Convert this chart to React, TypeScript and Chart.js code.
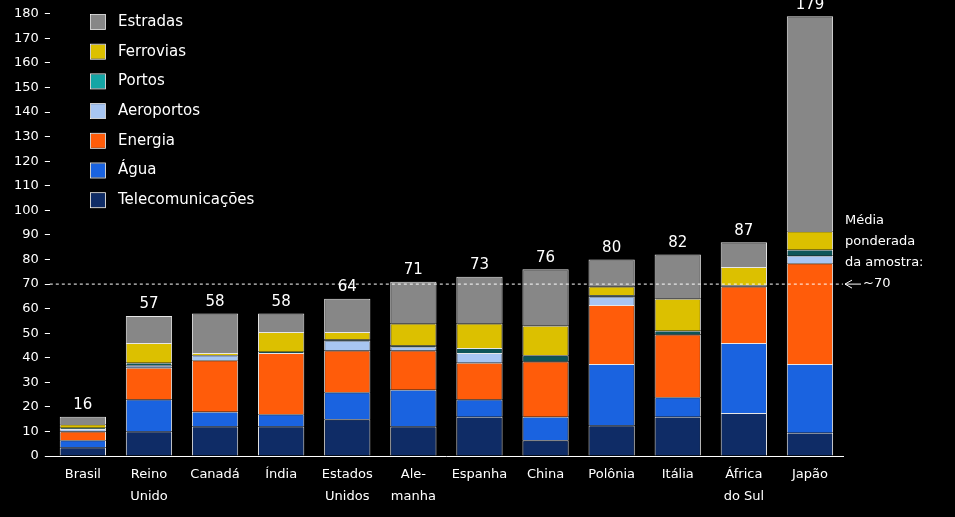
import React, { useEffect, useRef } from "react";
import { Chart, registerables } from "chart.js";

Chart.register(...registerables);

const categories: (string | string[])[] = [
  "Brasil", ["Reino", "Unido"], "Canadá", "Índia", ["Estados", "Unidos"], ["Ale-", "manha"],
  "Espanha", "China", "Polônia", "Itália", ["África", "do Sul"], "Japão",
];
const totals = [16, 57, 58, 58, 64, 71, 73, 76, 80, 82, 87, 179];

const telecomunicacoes = [3.5, 10, 12, 12, 15, 12, 16, 6.5, 12.5, 16, 17.5, 9.5];
const agua = [3, 13, 6, 5, 11, 15, 7, 9.5, 25, 8, 28.5, 28];
const energia = [3.5, 13, 21, 25, 17, 16, 15, 22.5, 24, 25.5, 23, 41];
const aeroportos = [1, 1, 2, 0, 4, 1.5, 4, 0, 3.5, 0, 0.5, 3];
const portos = [0.5, 1, 0, 0.5, 0.5, 0.5, 2, 2.5, 0.5, 1.5, 0, 2.5];
const ferrovias = [1.5, 8, 1, 8, 3, 9, 10, 12, 3.5, 13, 7.5, 7.5];
const estradas = [3, 11, 16, 7.5, 13.5, 17, 19, 23, 11, 18, 10, 87.5];

const yTicksMax = 180;
const averageValue = 70;
const averageLabel = ["Média", "ponderada", "da amostra:", "~70"];

const FONT = "'DejaVu Sans', 'Liberation Sans', sans-serif";

const seriesDefs = [
  { label: "Telecomunicações", data: telecomunicacoes, color: "#0f2c66" },
  { label: "Água", data: agua, color: "#1a63e0" },
  { label: "Energia", data: energia, color: "#ff5c0a" },
  { label: "Aeroportos", data: aeroportos, color: "#a8c6f2" },
  { label: "Portos", data: portos, color: "#0d5558" },
  { label: "Ferrovias", data: ferrovias, color: "#dcc000" },
  { label: "Estradas", data: estradas, color: "#878787" },
];
const legendColors: Record<string, string> = { Portos: "#14a5a5" };

const overlayPlugin = {
  id: "overlay",
  afterDatasetsDraw(chart: any) {
    const { ctx, chartArea, scales } = chart;
    const x = scales.x;
    const y = scales.y;
    ctx.save();
    // totals
    ctx.fillStyle = "#ffffff";
    ctx.font = `15px ${FONT}`;
    ctx.textAlign = "center";
    ctx.textBaseline = "bottom";
    totals.forEach((t, i) => {
      ctx.fillText(String(t), x.getPixelForValue(i), y.getPixelForValue(t) - 4);
    });
    // dashed average line
    const ya = y.getPixelForValue(averageValue);
    ctx.strokeStyle = "#ffffff";
    ctx.lineWidth = 1;
    ctx.setLineDash([3, 3]);
    ctx.beginPath();
    ctx.moveTo(chartArea.left, ya);
    ctx.lineTo(chartArea.right, ya);
    ctx.stroke();
    ctx.setLineDash([]);
    // annotation text
    ctx.textAlign = "left";
    ctx.textBaseline = "middle";
    ctx.font = `13px ${FONT}`;
    const tx = chartArea.right + 2;
    averageLabel.forEach((line, i) => {
      const ly = ya - 3 * 21 + i * 21;
      ctx.fillText(line, i === 3 ? tx + 18 : tx, ly);
    });
    // arrow pointing left
    ctx.beginPath();
    ctx.moveTo(tx + 16, ya);
    ctx.lineTo(tx, ya);
    ctx.moveTo(tx + 7, ya - 4);
    ctx.lineTo(tx, ya);
    ctx.lineTo(tx + 7, ya + 4);
    ctx.stroke();
    // legend
    const legendOrder = [...seriesDefs].reverse();
    ctx.font = `15px ${FONT}`;
    legendOrder.forEach((s, i) => {
      const cy = 22 + i * 29.7;
      ctx.fillStyle = legendColors[s.label] || s.color;
      ctx.fillRect(91, cy - 7, 14, 14);
      ctx.strokeStyle = "#ffffff";
      ctx.lineWidth = 0.8;
      ctx.strokeRect(90.5, cy - 7.5, 15, 15);
      ctx.fillStyle = "#ffffff";
      ctx.fillText(s.label, 118, cy);
    });
    ctx.restore();
  },
};

export default function App() {
  const ref = useRef<HTMLCanvasElement | null>(null);
  useEffect(() => {
    document.body.style.margin = "0";
    document.body.style.background = "#000000";
    if (!ref.current) return;
    const chart = new Chart(ref.current, {
      type: "bar",
      data: {
        labels: categories,
        datasets: seriesDefs.map((s) => ({
          label: s.label,
          data: s.data,
          backgroundColor: s.color,
          borderColor: "rgba(255,255,255,0.9)",
          borderWidth: 1,
          barPercentage: 0.7,
          categoryPercentage: 1,
        })),
      },
      options: {
        animation: false,
        responsive: false,
        maintainAspectRatio: false,
        layout: { padding: { top: 9, right: 112, left: 8, bottom: 2 } },
        plugins: { legend: { display: false }, tooltip: { enabled: false } },
        scales: {
          x: {
            stacked: true,
            grid: { display: false, drawTicks: false },
            border: { display: true, color: "#ffffff", width: 1 },
            ticks: {
              color: "#ffffff",
              font: { family: FONT, size: 13, lineHeight: 1.65 },
              padding: 8,
              maxRotation: 0,
              autoSkip: false,
            },
          },
          y: {
            stacked: true,
            min: 0,
            max: yTicksMax,
            grid: { drawOnChartArea: false, drawTicks: true, tickLength: 5, color: "#ffffff" },
            border: { display: false },
            ticks: {
              stepSize: 10,
              color: "#ffffff",
              font: { family: FONT, size: 13 },
              padding: 6,
            },
          },
        },
      },
      plugins: [overlayPlugin],
    });
    return () => chart.destroy();
  }, []);
  return (
    <div style={{ width: 955, height: 517, background: "#000" }}>
      <canvas ref={ref} width={955} height={517} style={{ display: "block" }} />
    </div>
  );
}
